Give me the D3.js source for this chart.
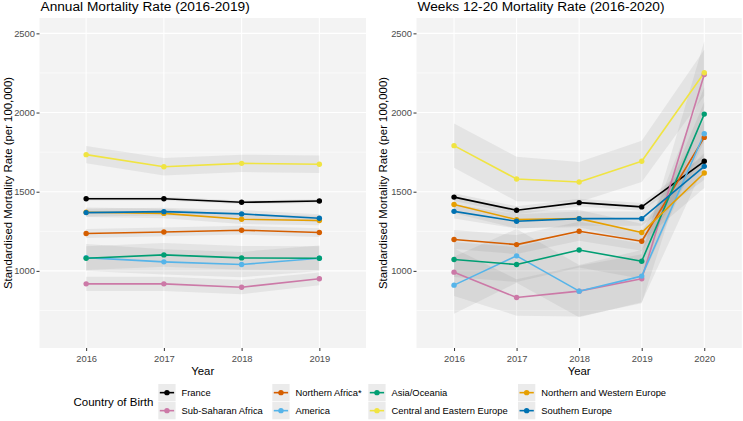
<!DOCTYPE html>
<html><head><meta charset="utf-8">
<script src="https://cdn.jsdelivr.net/npm/d3@7"></script>
<style>
body{margin:0;background:#fff}
text{font-family:"Liberation Sans",Arial,sans-serif}
</style>
</head><body>
<svg id="c" width="743" height="421"></svg>
<script>
// ---------- DATA ----------
const countries = ["France","Sub-Saharan Africa","Northern Africa*","America","Asia/Oceania",
  "Central and Eastern Europe","Northern and Western Europe","Southern Europe"];
const colors = ["#000000","#CC79A7","#D55E00","#56B4E9","#009E73","#F0E442","#E69F00","#0072B2"];
const annualYears = ["2016","2017","2018","2019"];
const weeklyYears = ["2016","2017","2018","2019","2020"];
const yTicks = [1000,1500,2000,2500];
const yMinorTicks = [750,1250,1750,2250];

// rows follow countries order
const annualRates = [
  [1456,1456,1433,1441],
  [918,918,897,950],
  [1236,1246,1257,1242],
  [1084,1057,1040,1080],
  [1080,1101,1082,1080],
  [1734,1658,1679,1673],
  [1370,1363,1326,1318],
  [1368,1374,1360,1332]
];
const annualCI = [   // half-width of confidence band
  [12,12,12,12],
  [45,45,45,40],
  [28,28,28,28],
  [85,80,80,80],
  [75,75,75,75],
  [55,55,55,55],
  [30,30,30,30],
  [25,25,25,25]
];
const weeklyRates = [
  [1466,1383,1431,1404,1692],
  [992,832,872,950,2240],
  [1198,1166,1250,1187,1843],
  [910,1095,872,967,1866],
  [1072,1040,1132,1061,1990],
  [1791,1580,1561,1692,2251],
  [1419,1324,1330,1242,1618],
  [1376,1313,1330,1330,1660]
];
const weeklyCI = [
  [25,25,25,25,40],
  [150,115,160,155,210],
  [60,60,60,60,110],
  [180,170,165,165,200],
  [110,110,110,110,170],
  [140,140,126,130,145],
  [55,55,55,55,95],
  [45,45,45,45,85]
];

// ---------- DRAW ----------
const svg = d3.select("#c");
svg.append("rect").attr("width",743).attr("height",421).attr("fill","#fff");
const y = d3.scaleLinear().domain([513,2597]).range([348,18]);

function drawPanel(o){
  const x = d3.scalePoint().domain(o.years).range(o.range).padding(0.6);
  const g = svg.append("g");
  const [x0,x1] = o.range;
  g.append("rect").attr("x",x0).attr("y",18).attr("width",x1-x0).attr("height",330).attr("fill","#F3F3F3");
  g.selectAll(".mn").data(yMinorTicks).join("line")
    .attr("x1",x0).attr("x2",x1).attr("y1",d=>y(d)).attr("y2",d=>y(d))
    .attr("stroke","#fff").attr("stroke-width",0.6);
  g.selectAll(".mj").data(yTicks).join("line")
    .attr("x1",x0).attr("x2",x1).attr("y1",d=>y(d)).attr("y2",d=>y(d))
    .attr("stroke","#fff").attr("stroke-width",1.1);
  g.selectAll(".vx").data(o.years).join("line")
    .attr("x1",d=>x(d)).attr("x2",d=>x(d)).attr("y1",18).attr("y2",348)
    .attr("stroke","#fff").attr("stroke-width",1.1);

  const series = countries.map((c,i)=>({c,i,pts:o.years.map((yr,j)=>({yr,v:o.rates[i][j],lo:o.rates[i][j]-o.ci[i][j],hi:o.rates[i][j]+o.ci[i][j]}))}));
  const area = d3.area().x(d=>x(d.yr)).y0(d=>y(d.lo)).y1(d=>y(d.hi));
  const line = d3.line().x(d=>x(d.yr)).y(d=>y(d.v));
  g.selectAll(".rb").data(series).join("path")
    .attr("d",d=>area(d.pts)).attr("fill","#7f7f7f").attr("fill-opacity",0.12);
  g.selectAll(".ln").data(series).join("path")
    .attr("d",d=>line(d.pts)).attr("fill","none").attr("stroke",d=>colors[d.i])
    .attr("stroke-width",1.6).attr("stroke-linejoin","round");
  series.forEach(s=>{
    g.selectAll(null).data(s.pts).join("circle")
      .attr("cx",d=>x(d.yr)).attr("cy",d=>y(d.v)).attr("r",2.7).attr("fill",colors[s.i]);
  });

  const ya = g.append("g").attr("transform",`translate(${x0},0)`)
    .call(d3.axisLeft(y).tickValues(yTicks).tickFormat(d3.format("d")).tickSize(3).tickPadding(1.5));
  const xa = g.append("g").attr("transform","translate(0,348)")
    .call(d3.axisBottom(x).tickSize(3).tickPadding(4));
  [ya,xa].forEach(a=>{
    a.select(".domain").remove();
    a.selectAll("line").attr("stroke","#333");
    a.selectAll("text").attr("fill","#4D4D4D").style("font-size","9.4px")
      .style("font-family","'Liberation Sans',Arial,sans-serif");
  });
  g.append("text").attr("x",x0+1).attr("y",11).text(o.title)
    .style("font-size","13.7px").attr("fill","#000");
  g.append("text").attr("x",(x0+x1)/2).attr("y",374.8).attr("text-anchor","middle")
    .text("Year").style("font-size","11.4px");
  g.append("text").attr("transform",`translate(${o.ylabX},183) rotate(-90)`).attr("text-anchor","middle")
    .text("Standardised Mortality Rate (per 100,000)").style("font-size","11.4px");
}

drawPanel({years:annualYears,range:[39.5,366],rates:annualRates,ci:annualCI,
  title:"Annual Mortality Rate (2016-2019)",ylabX:11.5});
drawPanel({years:weeklyYears,range:[416.5,741.8],rates:weeklyRates,ci:weeklyCI,
  title:"Weeks 12-20 Mortality Rate (2016-2020)",ylabX:387});

const lg = svg.append("g");
lg.append("text").attr("x",73.5).attr("y",405.8).text("Country of Birth").style("font-size","11.5px");
const colX = [158.3,272.3,368.3,518];
const rowY = [384,402];
countries.forEach((c,i)=>{
  const col = Math.floor(i/2), row = i%2;
  const kx = colX[col], ky = rowY[row];
  lg.append("rect").attr("x",kx).attr("y",ky).attr("width",17.3).attr("height",17.3).attr("fill","#EBEBEB");
  lg.append("line").attr("x1",kx+1.5).attr("x2",kx+15.8).attr("y1",ky+8.65).attr("y2",ky+8.65)
    .attr("stroke",colors[i]).attr("stroke-width",1.6);
  lg.append("circle").attr("cx",kx+8.65).attr("cy",ky+8.65).attr("r",2.7).attr("fill",colors[i]);
  lg.append("text").attr("x",kx+23.2).attr("y",ky+8.65+3.3).text(c).style("font-size","9.4px");
});
</script>
</body></html>
